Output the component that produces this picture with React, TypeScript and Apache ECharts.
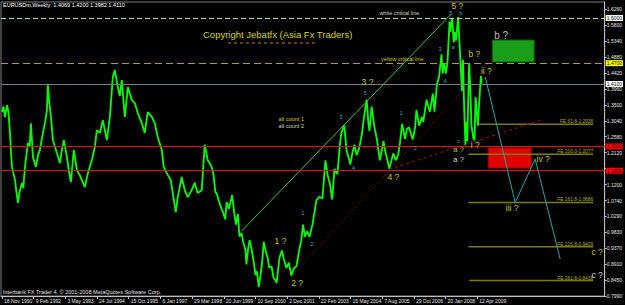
import React, { useEffect, useRef } from 'react';
import * as echarts from 'echarts';

// ---------- data ----------
const PRICE_1990S: [string, number][] = [
  ['1990-11-18', 1.329], ['1990-12-09', 1.345], ['1990-12-30', 1.315], ['1991-01-28', 1.349],
  ['1991-02-17', 1.330], ['1991-03-11', 1.269], ['1991-03-25', 1.215], ['1991-04-08', 1.171],
  ['1991-05-21', 1.133], ['1991-06-10', 1.100], ['1991-07-02', 1.067], ['1991-07-21', 1.095],
  ['1991-08-27', 1.125], ['1991-09-15', 1.110], ['1991-10-09', 1.171], ['1991-11-20', 1.240],
  ['1991-12-15', 1.230], ['1992-01-01', 1.297], ['1992-01-30', 1.199], ['1992-03-12', 1.171],
  ['1992-04-10', 1.205], ['1992-05-07', 1.220], ['1992-06-19', 1.269], ['1992-07-20', 1.300],
  ['1992-08-14', 1.335], ['1992-08-28', 1.407], ['1992-09-15', 1.360], ['1992-10-10', 1.315],
  ['1992-11-07', 1.248], ['1992-12-05', 1.230], ['1993-01-02', 1.211], ['1993-02-14', 1.182],
  ['1993-03-10', 1.215], ['1993-04-11', 1.248], ['1993-05-24', 1.199], ['1993-06-20', 1.160],
  ['1993-07-19', 1.127], ['1993-08-30', 1.220], ['1993-10-12', 1.162], ['1993-11-15', 1.150],
  ['1993-12-21', 1.133], ['1994-02-02', 1.113], ['1994-03-16', 1.153], ['1994-05-12', 1.191],
  ['1994-06-23', 1.228], ['1994-07-21', 1.277], ['1994-09-02', 1.269], ['1994-10-14', 1.306],
  ['1994-12-09', 1.248], ['1995-01-21', 1.315], ['1995-03-04', 1.430], ['1995-04-01', 1.450],
  ['1995-05-14', 1.401], ['1995-06-10', 1.375], ['1995-07-09', 1.421], ['1995-08-21', 1.315],
  ['1995-10-02', 1.401], ['1995-11-27', 1.364], ['1996-01-09', 1.355], ['1996-02-20', 1.326],
  ['1996-04-17', 1.297], ['1996-05-29', 1.269], ['1996-07-10', 1.329], ['1996-09-05', 1.315],
  ['1996-10-17', 1.297], ['1996-11-28', 1.257], ['1997-01-24', 1.220], ['1997-02-21', 1.171],
  ['1997-04-04', 1.153], ['1997-05-31', 1.133], ['1997-06-28', 1.096], ['1997-08-10', 1.041],
  ['1997-09-07', 1.084], ['1997-11-02', 1.142], ['1997-12-15', 1.104], ['1998-01-26', 1.084],
  ['1998-03-23', 1.104], ['1998-05-05', 1.125], ['1998-06-16', 1.096], ['1998-08-12', 1.104],
  ['1998-09-23', 1.235], ['1998-11-04', 1.191], ['1998-12-31', 1.171],
];

const PRICE_2000S: [string, number][] = [
  ['1999-01-25', 1.150], ['1999-02-20', 1.100], ['1999-03-20', 1.090], ['1999-04-15', 1.070],
  ['1999-05-20', 1.050], ['1999-06-10', 1.040], ['1999-07-10', 1.020], ['1999-07-30', 1.070],
  ['1999-09-01', 1.050], ['1999-10-15', 1.090], ['1999-11-20', 1.030], ['1999-12-10', 1.005],
  ['2000-01-05', 1.035], ['2000-01-28', 0.970], ['2000-02-26', 0.980], ['2000-03-20', 0.955],
  ['2000-04-23', 0.930], ['2000-05-05', 0.890], ['2000-06-01', 0.940], ['2000-06-20', 0.960],
  ['2000-07-20', 0.930], ['2000-08-14', 0.900], ['2000-09-10', 0.860], ['2000-10-01', 0.870],
  ['2000-10-26', 0.825], ['2000-11-21', 0.860], ['2000-12-15', 0.900], ['2001-01-05', 0.955],
  ['2001-02-01', 0.930], ['2001-02-27', 0.910], ['2001-03-25', 0.880], ['2001-04-25', 0.885],
  ['2001-05-25', 0.850], ['2001-06-20', 0.845], ['2001-07-06', 0.837], ['2001-08-16', 0.910],
  ['2001-09-20', 0.930], ['2001-10-15', 0.905], ['2001-11-23', 0.880], ['2001-12-25', 0.895],
  ['2002-01-31', 0.858], ['2002-03-10', 0.880], ['2002-04-13', 0.885], ['2002-05-20', 0.930],
  ['2002-06-20', 0.960], ['2002-07-15', 1.005], ['2002-08-10', 0.970], ['2002-09-10', 0.985],
  ['2002-10-13', 0.970], ['2002-11-25', 1.005], ['2002-12-31', 1.050], ['2003-01-20', 1.075],
  ['2003-03-03', 1.085], ['2003-04-15', 1.080], ['2003-05-27', 1.190], ['2003-06-25', 1.150],
  ['2003-08-01', 1.120], ['2003-09-01', 1.077], ['2003-10-01', 1.165], ['2003-11-13', 1.150],
  ['2003-12-15', 1.230], ['2004-01-08', 1.270], ['2004-02-18', 1.290], ['2004-03-20', 1.220],
  ['2004-04-15', 1.200], ['2004-05-14', 1.178], ['2004-06-10', 1.210], ['2004-07-10', 1.235],
  ['2004-08-10', 1.205], ['2004-09-15', 1.225], ['2004-10-20', 1.260], ['2004-11-20', 1.310],
  ['2004-12-30', 1.365], ['2005-01-25', 1.295], ['2005-02-08', 1.275], ['2005-03-11', 1.345],
  ['2005-04-15', 1.290], ['2005-05-25', 1.250], ['2005-07-05', 1.190], ['2005-07-28', 1.215],
  ['2005-08-25', 1.245], ['2005-09-25', 1.210], ['2005-10-20', 1.190], ['2005-11-15', 1.166],
  ['2005-12-10', 1.185], ['2006-01-10', 1.210], ['2006-02-15', 1.190], ['2006-03-20', 1.205],
  ['2006-04-15', 1.240], ['2006-05-15', 1.295], ['2006-06-26', 1.252], ['2006-07-20', 1.280],
  ['2006-08-20', 1.285], ['2006-10-13', 1.250], ['2006-11-15', 1.285], ['2006-12-04', 1.335],
  ['2007-01-12', 1.290], ['2007-02-20', 1.315], ['2007-03-10', 1.300], ['2007-04-27', 1.365],
  ['2007-05-20', 1.345], ['2007-06-12', 1.330], ['2007-07-24', 1.382], ['2007-08-16', 1.330],
  ['2007-09-20', 1.410], ['2007-10-20', 1.430], ['2007-11-23', 1.495], ['2007-12-10', 1.440],
  ['2008-01-01', 1.470], ['2008-01-23', 1.440], ['2008-02-15', 1.470], ['2008-03-17', 1.590],
  ['2008-03-28', 1.560], ['2008-04-22', 1.600], ['2008-05-14', 1.530], ['2008-06-02', 1.560],
  ['2008-06-16', 1.535], ['2008-07-15', 1.603], ['2008-08-08', 1.510], ['2008-08-20', 1.465],
  ['2008-09-08', 1.390], ['2008-09-22', 1.480], ['2008-10-10', 1.335], ['2008-10-27', 1.235],
  ['2008-11-04', 1.300], ['2008-11-21', 1.245], ['2008-12-18', 1.470], ['2009-01-05', 1.390],
  ['2009-01-20', 1.290], ['2009-02-18', 1.252], ['2009-03-04', 1.248], ['2009-03-19', 1.372],
  ['2009-04-06', 1.325], ['2009-04-21', 1.290], ['2009-05-10', 1.360], ['2009-06-03', 1.433],
  ['2009-06-12', 1.411],
];

const X_TICK_DATES = ['1990-11-18', '1992-02-09', '1993-05-03', '1994-07-24', '1995-10-15', '1997-01-06',
  '1998-03-29', '1999-06-20', '2000-09-10', '2001-12-02', '2003-02-22', '2004-05-16', '2005-08-07',
  '2006-10-29', '2008-01-20', '2009-04-12'];
const X_TICK_LABELS = ['18 Nov 1990', '9 Feb 1992', '3 May 1993', '24 Jul 1994', '15 Oct 1995', '6 Jan 1997',
  '29 Mar 1998', '20 Jun 1999', '10 Sep 2000', '2 Dec 2001', '22 Feb 2003', '16 May 2004', '7 Aug 2005',
  '29 Oct 2006', '20 Jan 2008', '12 Apr 2009'];
const Y_TICKS = [1.626, 1.58, 1.534, 1.488, 1.442, 1.396, 1.35, 1.304, 1.258, 1.212, 1.166, 1.12, 1.074,
  1.029, 0.983, 0.937, 0.891, 0.845, 0.799];
// 1.1660 sits under the red 1.1640 price tag in the reference, so it is not written out
const Y_LABELS = [1.626, 1.58, 1.534, 1.488, 1.442, 1.396, 1.35, 1.304, 1.258, 1.212, 1.12, 1.074,
  1.029, 0.983, 0.937, 0.891, 0.845, 0.799];

const LEVEL_WHITE = 1.6032;
const LEVEL_YELLOW = 1.4714;
const LEVEL_BID = 1.4110;
const LEVEL_RED = [1.2330, 1.1640];

const FE_LEVELS = [1.2936, 1.2077, 1.0686, 0.9409, 0.8436];
const FE_NAMES = ['FE 61.8-1.2936', 'FE 100.0-1.2077', 'FE 161.8-1.0686', 'FE 216.8-0.9409', 'FE 261.8-0.8436'];
const FE_STARTS = ['2009-04-27', '2008-12-07', '2008-12-07', '2008-12-07', '2008-12-21'];
const FE_END = '2013-10-06';

const GREEN_TREND: [string, number][] = [['2000-02-26', 0.986], ['2008-04-10', 1.6116]];
const RED_DOTTED: [string, number][] = [['2002-02-02', 0.8565], ['2009-11-10', 1.482]];
const RED_DASHED: [string, number][] = [['2005-11-15', 1.164], ['2011-10-03', 1.306]];
const TEAL_PATH: [string, number][] = [['2009-08-04', 1.430], ['2010-09-30', 1.0686], ['2011-07-10', 1.1937], ['2012-06-27', 0.9055]];
const GREEN_BOX: [string, number][] = [['2009-11-10', 1.5367], ['2011-06-26', 1.4733]];
const RED_BOX: [string, number][] = [['2009-09-15', 1.2254], ['2011-05-14', 1.1678]];

const WAVE_YELLOW: [string, number, string][] = [
  ['2008-07-04', 1.6346, '5 ?'], ['2009-03-01', 1.4963, 'b ?'], ['2009-08-18', 1.4473, 'ii ?'],
  ['2005-01-11', 1.4156, '3 ?'], ['2006-01-12', 1.1427, '4 ?'], ['2001-08-30', 0.9582, '1 ?'],
  ['2002-04-21', 0.8372, '2 ?'], ['2009-03-15', 1.234, 'i ?'],
  ['2011-10-30', 1.1929, 'iv ?'], ['2010-08-19', 1.0516, 'iii ?'], ['2013-12-02', 0.9265, 'c ?'],
];
const WAVE_A_YELLOW: [string, number, string][] = [['2008-07-22', 1.2214, 'a ?']];
const WAVE_A_WHITE: [string, number, string][] = [['2008-07-22', 1.1925, 'a ?']];
const WAVE_CYAN: [string, number, string][] = [
  ['2008-04-06', 1.6136, '5'], ['2008-08-24', 1.6153, 'b'], ['2007-11-06', 1.5107, '3'],
  ['2008-05-08', 1.5165, 'a'], ['2008-01-16', 1.4185, '4'], ['2004-12-14', 1.384, '5'],
  ['2004-01-01', 1.314, '3'], ['2006-05-01', 1.3254, '1'], ['2006-11-18', 1.2245, '2'],
  ['2004-06-27', 1.1686, '4'], ['2002-07-12', 1.039, '1'], ['2002-11-16', 0.948, '2'],
  ['2008-07-22', 1.2464, 'c'],
];
const WAVE_WHITE: [string, number, string][] = [['2013-12-02', 0.8594, 'c ?']];
const BOX_NOTE: [string, number, string][] = [['2010-03-17', 1.5511, 'b ?']];
const NOTES_YELLOW: [string, number, string][] = [
  ['2006-05-19', 1.482, 'yellow critical line'], ['2002-01-29', 1.309, 'alt count 1'],
];
const NOTES_WHITE: [string, number, string][] = [
  ['2006-04-07', 1.6145, 'white critical line'], ['2002-01-29', 1.289, 'alt count 2'],
];

// ---------- chart ----------
const FONT = 'Liberation Sans, Arial, sans-serif';
const toTs = (s: string) => {
  const [y, m, d] = s.split('-').map(Number);
  return Date.UTC(y, m - 1, d);
};
const pts = (arr: [string, number][]) => arr.map(([d, v]) => [toTs(d), v]);

function textSeries(items: [string, number, string][], color: string, size: number, align = 'center', vAlign = 'middle') {
  return {
    type: 'custom', coordinateSystem: 'cartesian2d', clip: false, silent: true, z: 10,
    data: items.map((it) => [toTs(it[0]), it[1]]),
    renderItem: (params: any, api: any) => {
      const p = api.coord([api.value(0), api.value(1)]);
      return {
        type: 'text', x: p[0], y: p[1],
        style: { text: items[params.dataIndex][2], fill: color, fontSize: size, fontFamily: FONT, align, verticalAlign: vAlign },
      };
    },
  };
}

function boxSeries(box: [string, number][], fill: string, stroke: string) {
  return {
    type: 'custom', coordinateSystem: 'cartesian2d', silent: true, z: 1,
    encode: { x: [0, 2], y: [1, 3] },
    data: [[toTs(box[0][0]), box[0][1], toTs(box[1][0]), box[1][1]]],
    renderItem: (params: any, api: any) => {
      const a = api.coord([api.value(0), api.value(1)]);
      const b = api.coord([api.value(2), api.value(3)]);
      return {
        type: 'rect',
        shape: { x: Math.min(a[0], b[0]), y: Math.min(a[1], b[1]), width: Math.abs(b[0] - a[0]), height: Math.abs(b[1] - a[1]) },
        style: { fill, stroke, lineWidth: 1 },
      };
    },
  };
}

function lineSeries(data: any[], color: string, width: number, type: any = 'solid', z = 3) {
  return {
    type: 'line', data, symbol: 'none', silent: true, z,
    lineStyle: { color, width, type }, clip: false,
  };
}

const levelLabel = (bg: string, fg: string) => ({
  show: true, position: 'end', distance: 1, fontSize: 5, fontFamily: FONT,
  color: fg, backgroundColor: bg, padding: [1, 1, 0, 1],
  formatter: (p: any) => Number(p.value).toFixed(4),
});

export default function App() {
  const ref = useRef<HTMLDivElement>(null);
  useEffect(() => {
    document.body.style.margin = '0';
    document.body.style.background = '#000';
    const chart = echarts.init(ref.current!, null, { renderer: 'svg' });
    const xTicks = X_TICK_DATES.map(toTs);
    const priceData = pts([...PRICE_1990S, ...PRICE_2000S]);

    const series: any[] = [
      boxSeries(GREEN_BOX, '#1a9e1a', '#0b5e0b'),
      boxSeries(RED_BOX, '#e00000', '#a00000'),
      {
        type: 'line', name: 'EURUSD', data: priceData, symbol: 'none', z: 4, clip: false,
        lineStyle: { color: '#00ff00', width: 1.8 },
        markLine: {
          symbol: 'none', silent: true, animation: false,
          data: [
            { yAxis: LEVEL_WHITE, lineStyle: { color: '#a8e8a8', type: [5, 3], width: 1 }, label: levelLabel('#ffffff', '#000000') },
            { yAxis: LEVEL_YELLOW, lineStyle: { color: '#a8a800', type: [7, 4], width: 1 }, label: levelLabel('#ffff00', '#000000') },
            { yAxis: LEVEL_BID, lineStyle: { color: '#6f8585', type: 'solid', width: 1 }, label: levelLabel('#ffffff', '#000000') },
            ...LEVEL_RED.map((v) => ({ yAxis: v, lineStyle: { color: '#ff0000', type: 'solid', width: 1.2 }, label: levelLabel('#ff0000', '#300000') })),
          ],
        },
      },
      ...FE_LEVELS.map((v, i) => lineSeries([[toTs(FE_STARTS[i]), v], [toTs(FE_END), v]], '#7d7d00', 1.5, 'solid', 2)),
      lineSeries(pts(GREEN_TREND), '#3cc83c', 1),
      lineSeries(pts(RED_DOTTED), '#9a1010', 1, [1, 2]),
      lineSeries(pts(RED_DASHED), '#a01010', 1, [3, 3]),
      lineSeries(pts(TEAL_PATH), '#22a8a8', 1, 'solid', 5),
      textSeries(FE_LEVELS.map((v, i) => [FE_END, v, FE_NAMES[i]] as [string, number, string]), '#b4b400', 4.8, 'right', 'bottom'),
      textSeries(WAVE_YELLOW, '#cccc00', 8.5),
      textSeries(WAVE_A_YELLOW, '#cccc00', 7.5),
      textSeries(WAVE_A_WHITE, '#d8d8d8', 7.5),
      textSeries(WAVE_CYAN, '#22a8b8', 6),
      textSeries(WAVE_WHITE, '#d8d8d8', 8.5),
      textSeries(BOX_NOTE, '#b8b8b8', 10),
      textSeries(NOTES_YELLOW, '#d0d000', 5.5),
      textSeries(NOTES_WHITE, '#c8dcc8', 5.5),
    ];

    chart.setOption({
      animation: false,
      backgroundColor: '#000000',
      grid: { left: 1, top: 2, right: 19, bottom: 9, show: true, borderColor: '#808080', borderWidth: 1, backgroundColor: '#000000' },
      xAxis: {
        type: 'value', min: toTs('1990-11-04'), max: toTs('2014-03-19'),
        axisLine: { show: true, lineStyle: { color: '#c0c0c0', width: 1 } },
        axisTick: { show: true, customValues: xTicks, length: 3, lineStyle: { color: '#c0c0c0' } },
        axisLabel: {
          customValues: xTicks, color: '#e8e8e8', fontSize: 5, fontFamily: FONT, align: 'left', margin: 2, padding: [0, 0, 0, 2],
          formatter: (v: number) => {
            const i = xTicks.findIndex((t) => Math.abs(t - v) < 3600000 * 12);
            return i >= 0 ? X_TICK_LABELS[i] : '';
          },
        },
        splitLine: { show: false },
      },
      yAxis: {
        type: 'value', position: 'right', min: 0.799, max: 1.6462,
        axisLine: { show: true, lineStyle: { color: '#c0c0c0', width: 1 } },
        axisTick: { show: true, customValues: Y_TICKS, length: 2, lineStyle: { color: '#c0c0c0' } },
        axisLabel: { customValues: Y_LABELS, color: '#e8e8e8', fontSize: 5, fontFamily: FONT, margin: 2, formatter: (v: number) => v.toFixed(4) },
        splitLine: { show: false },
      },
      graphic: [
        { type: 'text', left: 3, top: 2, style: { text: 'EURUSDm,Weekly  1.4069 1.4200 1.3982 1.4110', fill: '#ffffff', fontSize: 5.5, fontFamily: FONT } },
        { type: 'text', left: 3, top: 289, style: { text: 'Interbank FX Trader 4, \u00a9 2001-2008 MetaQuotes Software Corp.', fill: '#e0e0e0', fontSize: 5.5, fontFamily: FONT } },
        { type: 'text', left: 203, top: 29, style: { text: 'Copyright Jebatfx (Asia Fx Traders)', fill: '#d6d600', fontSize: 9.5, fontFamily: FONT } },
        { type: 'line', shape: { x1: 228, y1: 43, x2: 318, y2: 43 }, style: { stroke: '#c87a00', lineDash: [3, 3], lineWidth: 1 } },
      ],
      series,
    });
    return () => chart.dispose();
  }, []);
  return <div ref={ref} style={{ position: 'fixed', left: 0, top: 0, width: 625, height: 305 }} />;
}
